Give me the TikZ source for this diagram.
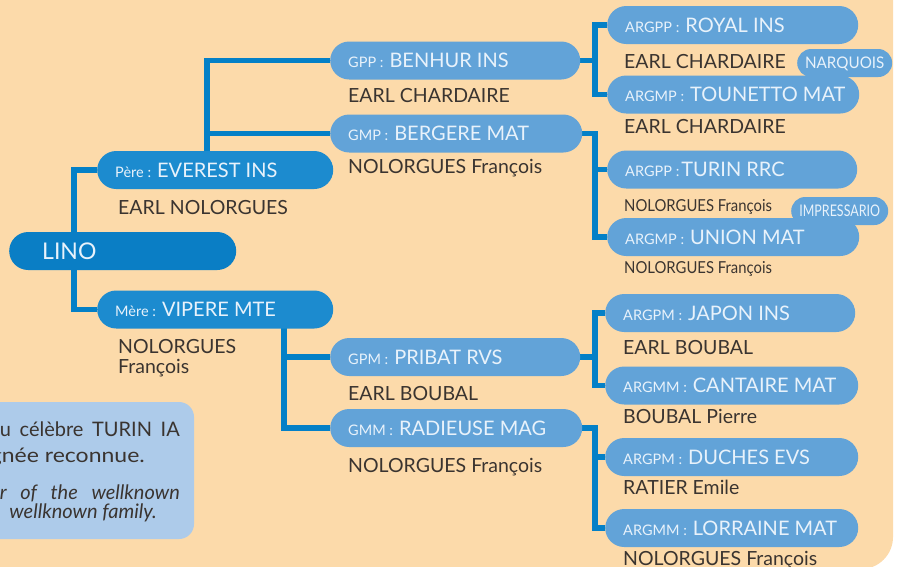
\documentclass[tikz,border=0pt]{standalone}
\usepackage{fontspec}
\setmainfont{Lato}
\usepackage{graphicx}
\pgfdeclarelayer{bg}
\pgfdeclarelayer{lines}
\pgfsetlayers{bg,lines,main}
\definecolor{peach}{HTML}{FCDAAA}
\definecolor{linoblue}{HTML}{0A7EC5}
\definecolor{parblue}{HTML}{1C8BCF}
\definecolor{gpblue}{HTML}{62A3D8}
\definecolor{conblue}{HTML}{0480C7}
\definecolor{infoblue}{HTML}{ADCBEA}
\definecolor{txt}{HTML}{3A3430}
\definecolor{pilltxt}{HTML}{E8F2FB}
\newcommand\myfs[1]{\fontsize{#1}{#1}\selectfont}
\newcommand\pfx[1]{{\myfs{14.5}#1}\hspace{6pt}}
\newcommand\pl[2]{\makebox[#1][l]{#2}}
\begin{document}
\begin{tikzpicture}[x=1pt,y=-1pt,
  pill/.style={rectangle, rounded corners=19pt, minimum height=38pt, inner ysep=0pt,
    inner xsep=18pt, text=pilltxt, text height=14.5pt, text depth=0pt,
    font=\myfs{20}, anchor=west},
  lino/.style={pill, fill=linoblue, inner xsep=33pt, font=\myfs{23}, text height=16.5pt},
  par/.style={pill, fill=parblue},
  gp/.style={pill, fill=gpblue},
  tag/.style={rectangle, rounded corners=14pt, minimum height=28pt, inner ysep=0pt,
    inner xsep=3pt, fill=gpblue, text=pilltxt, font=\myfs{16}, text height=11.5pt,
    text depth=0pt, anchor=west},
  sub/.style={anchor=base west, text=txt, font=\myfs{19.5}, inner sep=0pt},
  subc/.style={anchor=base west, text=txt, font=\myfs{16.5}, inner sep=0pt},
  info/.style={anchor=base east, text=txt, font=\myfs{20}, inner sep=0pt},
  conn/.style={draw=conblue, line width=5.5pt, line join=miter}
]
\useasboundingbox (0,0) rectangle (901,566);
\begin{pgfonlayer}{bg}
  \fill[peach, rounded corners=32pt] (-40,-40) rectangle (893,569);
  \fill[infoblue, rounded corners=15pt] (-30,402) rectangle (194,539);
\end{pgfonlayer}

% pills
\node[lino, minimum width=227pt] (lino) at (9,251) {\pl{161pt}{LINO}};
\node[par, minimum width=236pt] (pere) at (97,170) {\pl{200pt}{\pfx{Père :}EVEREST INS}};
\node[par, minimum width=236pt] (mere) at (97,309.5) {\pl{200pt}{\pfx{Mère :}VIPERE MTE}};

\node[gp, minimum width=250pt] (gpp) at (330,60.5) {\pl{214pt}{\pfx{GPP :}BENHUR INS}};
\node[gp, minimum width=252pt] (gmp) at (330,133.5) {\pl{216pt}{\pfx{GMP :}BERGERE MAT}};
\node[gp, minimum width=250pt] (gpm) at (330,357) {\pl{214pt}{\pfx{GPM :}PRIBAT RVS}};
\node[gp, minimum width=252pt] (gmm) at (330,428) {\pl{216pt}{\pfx{GMM :}RADIEUSE MAG}};

\node[tag, minimum width=95pt] (narq) at (797,63) {\scalebox{0.95}[1]{NARQUOIS}};
\node[tag, minimum width=97pt] (impr) at (791,211) {\scalebox{0.78}[1]{IMPRESSARIO}};

\node[gp, minimum width=251pt] (royal) at (607,25) {\pl{215pt}{\pfx{ARGPP :}ROYAL INS}};
\node[gp, minimum width=252pt] (toun) at (607,94.5) {\pl{216pt}{\pfx{ARGMP :}TOUNETTO MAT}};
\node[gp, minimum width=250pt] (turin) at (607,169.5) {\pl{214pt}{{\myfs{14.5}ARGPP :}\hspace{2pt}TURIN RRC}};
\node[gp, minimum width=252pt] (union) at (607,237) {\pl{216pt}{\pfx{ARGMP :}UNION MAT}};
\node[gp, minimum width=250pt] (japon) at (605,313) {\pl{214pt}{\pfx{ARGPM :}JAPON INS}};
\node[gp, minimum width=253pt] (cant) at (605,385.5) {\pl{217pt}{\pfx{ARGMM :}CANTAIRE MAT}};
\node[gp, minimum width=253pt] (duch) at (605,457) {\pl{217pt}{\pfx{ARGPM :}DUCHES EVS}};
\node[gp, minimum width=253pt] (lorr) at (605,528) {\pl{217pt}{\pfx{ARGMM :}LORRAINE MAT}};

% sub texts
\node[sub] (t1) at (118,214) {EARL NOLORGUES};
\node[sub] (t2) at (118,353) {NOLORGUES};
\node[sub] (t3) at (118,373.5) {François};
\node[sub] (t4) at (348,102) {EARL CHARDAIRE};
\node[sub] (t5) at (348,173) {NOLORGUES François};
\node[sub] (t6) at (348,400) {EARL BOUBAL};
\node[sub] (t7) at (348,472.5) {NOLORGUES François};
\node[sub] (t8) at (624,68) {EARL CHARDAIRE};
\node[sub] (t9) at (624,133) {EARL CHARDAIRE};
\node[subc] (t10) at (624,211) {\scalebox{0.9}[1]{NOLORGUES François}};
\node[subc] (t11) at (624,273) {\scalebox{0.9}[1]{NOLORGUES François}};
\node[sub] (t12) at (623,354) {EARL BOUBAL};
\node[sub] (t13) at (623,423) {BOUBAL Pierre};
\node[sub] (t14) at (623,494) {RATIER Emile};
\node[sub] (t15) at (623,565) {NOLORGUES François};

% info box text
\node[info] (i1) at (180,436) {\makebox[180pt][s]{u célèbre TURIN IA}};
\node[info] (i2) at (145,462) {\scalebox{1.15}[1]{gnée reconnue.}};
\node[info] (i3) at (180,499) {\itshape\makebox[180pt][s]{r of the wellknown}};
\node[info] (i4) at (157,518) {\itshape wellknown family.};

% junction coordinates
\coordinate (jl) at (74,251);
\coordinate (jp) at (207,170);
\coordinate (jm) at (284,309.5);
\coordinate (b1) at (595,60.5);
\coordinate (b2) at (595,200);
\coordinate (b3) at (595,357);
\coordinate (b4) at (595,480);

\begin{pgfonlayer}{lines}
  \draw[conn] (pere.west) -| (jl) |- (mere.west);
  \draw[conn] (gpp.west) -| (jp);
  \draw[conn] (gmp.west) -- (gmp.west -| jp);
  \draw[conn] (jm) |- (gpm.west);
  \draw[conn] (jm) |- (gmm.west);
  \draw[conn] (gpp.east) -- (b1);
  \draw[conn] (royal.west) -| (b1) |- (toun.west);
  \draw[conn] (gmp.east) -| (b2) |- (union.west);
  \draw[conn] (turin.west) -- (turin.west -| b2);
  \draw[conn] (gpm.east) -- (b3);
  \draw[conn] (japon.west) -| (b3) |- (cant.west);
  \draw[conn] (gmm.east) -| (b4) |- (lorr.west);
  \draw[conn] (duch.west) -- (duch.west -| b4);
\end{pgfonlayer}
\end{tikzpicture}
\end{document}
